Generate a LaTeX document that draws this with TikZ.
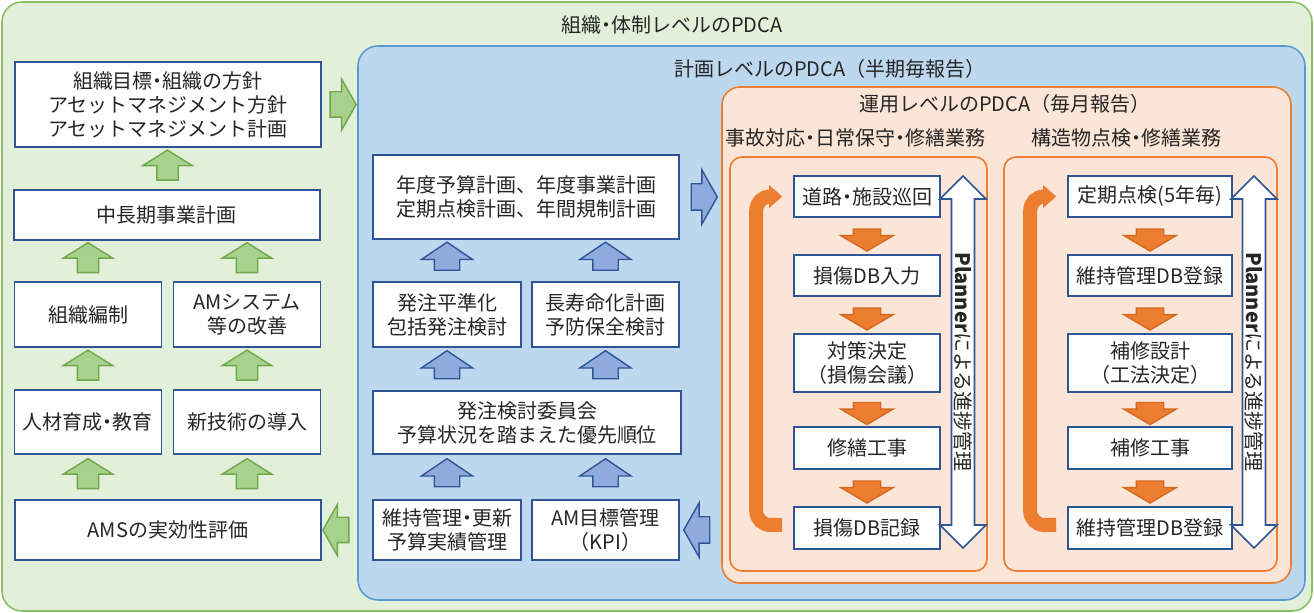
\documentclass[tikz,border=0pt]{standalone}
\usepackage{fontspec}
\setmainfont{Noto Sans CJK JP}
\usetikzlibrary{shapes.arrows,calc,arrows.meta}
\definecolor{orgfill}{HTML}{E2F0D9}
\definecolor{orgline}{HTML}{8DBF6A}
\definecolor{planfill}{HTML}{BDD7EE}
\definecolor{planline}{HTML}{5B9BD5}
\definecolor{operfill}{HTML}{FBE5D6}
\definecolor{operline}{HTML}{ED7D31}
\definecolor{boxline}{HTML}{2F5597}
\definecolor{garrfill}{HTML}{A9D18E}
\definecolor{garrline}{HTML}{6FA84A}
\definecolor{barrfill}{HTML}{8FAADC}
\definecolor{oarrfill}{HTML}{ED7D31}
\definecolor{oarrline}{HTML}{D46A22}
\definecolor{txt}{HTML}{262626}
\newcommand{\dotj}{\kern-.25em・\kern-.25em}
\tikzset{
  region/.style={draw, line width=0.8pt, rounded corners=10pt, inner sep=0pt},
  title/.style={text=txt, inner sep=0pt, font=\fontsize{10}{12}\selectfont},
  tbox/.style={draw=boxline, fill=white, line width=0.8pt, text=txt, align=center, inner sep=0pt, font=\fontsize{10}{12}\selectfont},
  blk/.style={single arrow, inner xsep=0pt, line width=0.7pt},
  garr/.style={blk, draw=garrline, fill=garrfill, inner ysep=5pt, minimum height=15pt, single arrow head extend=7pt, single arrow tip angle=116},
  garrh/.style={blk, draw=garrline, fill=garrfill, inner ysep=6pt, minimum height=13pt, single arrow head extend=6.5pt, single arrow tip angle=121},
  barr/.style={blk, draw=boxline, fill=barrfill, inner ysep=6pt, minimum height=14pt, single arrow head extend=6.5pt, single arrow tip angle=112},
  barrh/.style={blk, draw=boxline, fill=barrfill, inner ysep=6.25pt, minimum height=13pt, single arrow head extend=7pt, single arrow tip angle=121},
  oarr/.style={blk, draw=oarrline, fill=oarrfill, inner ysep=6.5pt, minimum height=11pt, single arrow head extend=6.25pt, single arrow tip angle=119, rotate=-90},
  darr/.style={double arrow, draw=boxline, fill=white, line width=0.8pt, inner sep=0.5pt, minimum height=186pt, minimum width=23pt, double arrow head extend=5.5pt, rotate=-90, text=txt, font=\fontsize{10}{12}\selectfont},
  loopline/.style={draw=oarrfill, line width=7pt, rounded corners=7pt, -{Triangle[length=6.5pt 0, width=11pt 0]}}
}
\begin{document}
\begin{tikzpicture}[x=0.5pt, y=-0.5pt]
\useasboundingbox (0,0) rectangle (1314,613);
\node[region, draw=orgline, fill=orgfill, minimum width=655pt, minimum height=304.5pt] (orgarea) at (657,306.5) {};
\node[region, draw=planline, fill=planfill, minimum width=473.5pt, minimum height=277pt] (planarea) at (831.5,323) {};
\node[region, draw=operline, fill=operfill, minimum width=284.5pt, minimum height=248pt, rounded corners=9pt] (operarea) at (1006.5,335) {};
\node[region, draw=operline, fill=operfill, minimum width=128.5pt, minimum height=207pt, rounded corners=6pt] (dailyarea) at (858.5,364) {};
\node[region, draw=operline, fill=operfill, minimum width=136.5pt, minimum height=207pt, rounded corners=6pt] (structarea) at (1140.5,364) {};

\node[title] (orgtitle) at (672,25) {組織\dotj 体制レベルのPDCA};
\node[title] (plantitle) at (830,69) {計画レベルのPDCA（半期毎報告）};
\node[title] (opertitle) at (1005,104) {運用レベルのPDCA（毎月報告）};
\node[title] (dailytitle) at (855,138) {事故対応\dotj 日常保守\dotj 修繕業務};
\node[title] (structtitle) at (1126,138) {構造物点検\dotj 修繕業務};

\node[tbox, minimum width=153pt, minimum height=42.5pt] (goal) at (168,104.5) {組織目標\dotj 組織の方針\\アセットマネジメント方針\\アセットマネジメント計画};
\node[tbox, minimum width=153pt, minimum height=25pt] (midplan) at (167,215) {中長期事業計画};
\node[tbox, minimum width=73.5pt, minimum height=32.5pt] (orgform) at (88,314.5) {組織編制};
\node[tbox, minimum width=73.5pt, minimum height=32.5pt] (amsys) at (247,314.5) {AMシステム\\等の改善};
\node[tbox, minimum width=73.5pt, minimum height=32pt] (hrdev) at (88,422) {人材育成\dotj 教育};
\node[tbox, minimum width=73.5pt, minimum height=32pt] (newtech) at (247,422) {新技術の導入};
\node[tbox, minimum width=153pt, minimum height=30pt] (amseval) at (168,530) {AMSの実効性評価};

\node[tbox, minimum width=153pt, minimum height=42pt] (annual) at (526,197) {年度予算計画、年度事業計画\\定期点検計画、年間規制計画};
\node[tbox, minimum width=74pt, minimum height=32.5pt] (leveling) at (447,314.5) {発注平準化\\包括発注検討};
\node[tbox, minimum width=73.5pt, minimum height=32.5pt] (longlife) at (605.5,314.5) {長寿命化計画\\予防保全検討};
\node[tbox, minimum width=154pt, minimum height=31.5pt] (committee) at (527,422.5) {発注検討委員会\\予算状況を踏まえた優先順位};
\node[tbox, minimum width=74pt, minimum height=30pt] (budget) at (447,530) {維持管理\dotj 更新\\予算実績管理};
\node[tbox, minimum width=73.5pt, minimum height=30pt] (kpi) at (605.5,530) {AM目標管理\\（KPI）};

\node[tbox, minimum width=73pt, minimum height=20.5pt] (patrol) at (867,196.5) {道路\dotj 施設巡回};
\node[tbox, minimum width=73pt, minimum height=20.5pt] (dbin) at (867,275.5) {損傷DB入力};
\node[tbox, minimum width=73pt, minimum height=29pt] (measure) at (867,363) {対策決定\\（損傷会議）};
\node[tbox, minimum width=73pt, minimum height=21pt] (repair) at (867,448) {修繕工事};
\node[tbox, minimum width=73pt, minimum height=21pt] (dbrec) at (867,528) {損傷DB記録};

\node[tbox, minimum width=82pt, minimum height=20.5pt] (inspect) at (1150,196.5) {定期点検(5年毎)};
\node[tbox, minimum width=82pt, minimum height=20.5pt] (dbreg) at (1150,275.5) {維持管理DB登録};
\node[tbox, minimum width=82pt, minimum height=29pt] (design) at (1150,363) {補修設計\\（工法決定）};
\node[tbox, minimum width=82pt, minimum height=21pt] (fix) at (1150,448) {補修工事};
\node[tbox, minimum width=82pt, minimum height=21pt] (dbrec2) at (1150,528) {維持管理DB登録};

\node[garr, rotate=90] (ga1) at ($(midplan.north)!0.5!(goal.south)$) {};
\node[garr, rotate=90] (ga2) at ($(orgform.north)!0.5!(orgform.north |- midplan.south)$) {};
\node[garr, rotate=90] (ga3) at ($(amsys.north)!0.5!(amsys.north |- midplan.south)$) {};
\node[garr, rotate=90] (ga4) at ($(hrdev.north)!0.5!(orgform.south)$) {};
\node[garr, rotate=90] (ga5) at ($(newtech.north)!0.5!(amsys.south)$) {};
\node[garr, rotate=90] (ga6) at ($(hrdev.south |- amseval.north)!0.5!(hrdev.south)$) {};
\node[garr, rotate=90] (ga7) at ($(newtech.south |- amseval.north)!0.5!(newtech.south)$) {};
\node[garrh] (ga8) at ($(goal.east)!0.5!(goal.east -| planarea.west)$) {};
\node[garrh, rotate=180] (ga9) at ($(amseval.east)!0.5!(amseval.east -| planarea.west)$) {};

\node[barr, rotate=90] (ba1) at ($(leveling.north)!0.5!(leveling.north |- annual.south)$) {};
\node[barr, rotate=90] (ba2) at ($(longlife.north)!0.5!(longlife.north |- annual.south)$) {};
\node[barr, rotate=90] (ba3) at ($(leveling.south |- committee.north)!0.5!(leveling.south)$) {};
\node[barr, rotate=90] (ba4) at ($(longlife.south |- committee.north)!0.5!(longlife.south)$) {};
\node[barr, rotate=90] (ba5) at ($(budget.north)!0.5!(budget.north |- committee.south)$) {};
\node[barr, rotate=90] (ba6) at ($(kpi.north)!0.5!(kpi.north |- committee.south)$) {};
\node[barrh] (ba7) at ($(annual.east)!0.5!(annual.east -| operarea.west)$) {};
\node[barrh, rotate=180] (ba8) at ($(kpi.east)!0.5!(kpi.east -| operarea.west)$) {};

\node[oarr] (oa1) at ($(patrol.south)!0.5!(dbin.north)$) {};
\node[oarr] (oa2) at ($(dbin.south)!0.5!(measure.north)$) {};
\node[oarr] (oa3) at ($(measure.south)!0.5!(repair.north)$) {};
\node[oarr] (oa4) at ($(repair.south)!0.5!(dbrec.north)$) {};
\node[oarr] (oa5) at ($(inspect.south)!0.5!(dbreg.north)$) {};
\node[oarr] (oa6) at ($(dbreg.south)!0.5!(design.north)$) {};
\node[oarr] (oa7) at ($(design.south)!0.5!(fix.north)$) {};
\node[oarr] (oa8) at ($(fix.south)!0.5!(dbrec2.north)$) {};

\draw[loopline] ($(dbrec.west)+(-11,-3)$) -- ++(-26,0) |- ($(patrol.west)+(-11,0)$);
\draw[loopline] ($(dbrec2.west)+(-11,-3)$) -- ++(-26,0) |- ($(inspect.west)+(-11,0)$);

\node[darr] (track1) at (963,362) {\textbf{Planner}による進捗管理};
\node[darr] (track2) at (1254,362) {\textbf{Planner}による進捗管理};
\end{tikzpicture}
\end{document}
